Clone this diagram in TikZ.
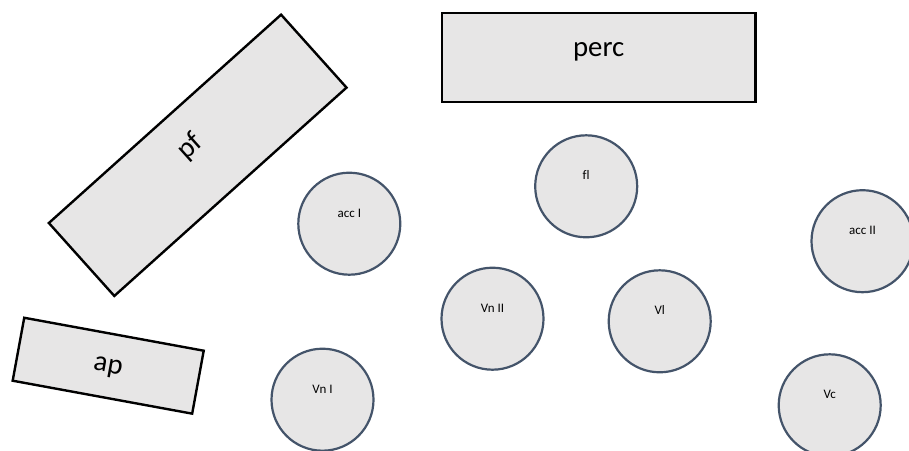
\documentclass[tikz,border=0pt]{standalone}
\usepackage{fontspec}
\setmainfont{Carlito}[Ligatures=NoCommon]
\definecolor{boxfill}{HTML}{E7E6E6}
\definecolor{seatline}{HTML}{44546A}
\begin{document}
\begin{tikzpicture}[x=1pt,y=-1pt,
  box/.style={draw=black, line width=2.4pt, fill=boxfill, rectangle, inner sep=0pt,
    font=\fontsize{28.8}{32}\selectfont},
  seat/.style={draw=seatline, line width=2.2pt, fill=boxfill, circle, inner sep=0pt, minimum size=102pt},
  small/.style={font=\fontsize{13}{15}\selectfont, inner sep=0pt, anchor=base}]
\useasboundingbox (0,0) rectangle (909,450);
% rectangles
\node[box, minimum width=312pt, minimum height=98pt, rotate=41.9,
  text height=20pt, text depth=27.8pt] (pf) at (197.7,155.3) {pf};
\node[box, minimum width=313.5pt, minimum height=89pt,
  text height=20pt, text depth=21.6pt] (perc) at (598.7,57.5) {perc};
\node[box, minimum width=182.5pt, minimum height=64pt, rotate=-10.4,
  text height=19.6pt, text depth=6pt] (ap) at (108.2,365.7) {ap};
% circles
\node[seat] (accI) at (349.3,223.7) {};
\node[small] (accIlabel) at (349.3,217.3) {acc I};
\node[seat] (fl) at (586.2,186.3) {};
\node[small] (fllabel) at (586.2,179.9) {fl};
\node[seat] (accII) at (862.5,241.2) {};
\node[small] (accIIlabel) at (862.5,234.8) {acc II};
\node[seat] (VnII) at (492.5,318.7) {};
\node[small] (VnIIlabel) at (492.5,312.3) {Vn II};
\node[seat] (Vl) at (659.7,321.3) {};
\node[small] (Vllabel) at (659.7,314.9) {Vl};
\node[seat] (VnI) at (322.5,399.7) {};
\node[small] (VnIlabel) at (322.5,393.3) {Vn I};
\node[seat] (Vc) at (829.7,405.3) {};
\node[small] (Vclabel) at (829.7,398.9) {Vc};
\end{tikzpicture}
\end{document}
